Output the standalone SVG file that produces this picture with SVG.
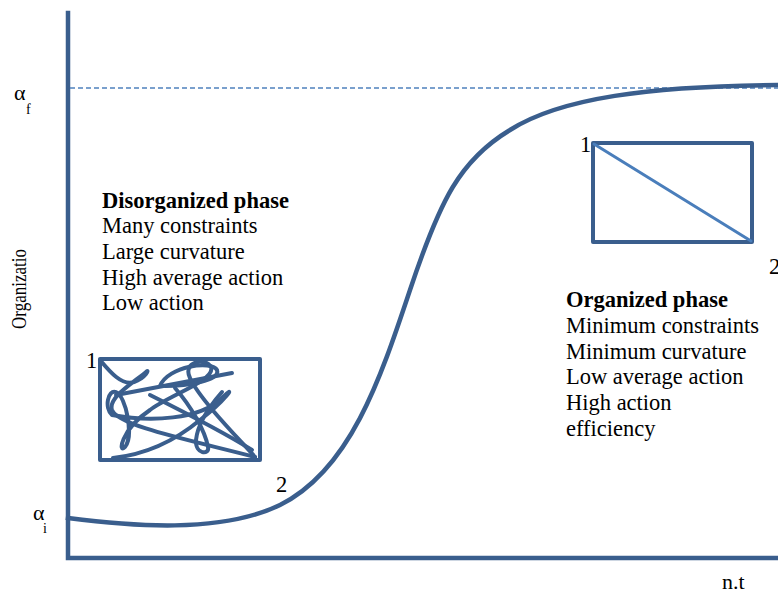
<svg xmlns="http://www.w3.org/2000/svg" width="778" height="591" viewBox="0 0 778 591">
<style>
.ax{fill:none;stroke:#3A5E8D;stroke-width:4.5;stroke-linecap:square}
.bx{fill:none;stroke:#3A5E8D;stroke-width:4;stroke-linejoin:round}
.sc{fill:none;stroke:#3A5E8D;stroke-width:4;stroke-linecap:round;stroke-linejoin:round}
.t{font-family:"Liberation Serif",serif;font-size:22.5px;fill:#000}
.b{font-weight:bold}
.s{font-family:"Liberation Serif",serif;font-size:22px;fill:#000}
.sub{font-family:"Liberation Serif",serif;font-size:14px;fill:#000}
</style>
<rect width="778" height="591" fill="#fff"/>
<g id="axes">
<path class="ax" d="M68,13 L68,558 L778,558"/>
<line x1="70" y1="88" x2="778" y2="88" stroke="#4F81BD" stroke-width="1.3" stroke-dasharray="5,3"/>
</g>
<g id="connectors">
<path class="ax" d="M68,518 C130,526 220,534 280,505 C350,470 380,380 410,290 C440,200 460,160 510,130 C560,98 650,86 778,85"/>
</g>
<g id="labels">
<text class="s" x="14" y="100">α</text><text class="sub" x="26" y="114">f</text>
<text class="s" x="33" y="520">α</text><text class="sub" x="43" y="533">i</text>
<text class="s" transform="translate(26,329) rotate(-90)" textLength="80" lengthAdjust="spacingAndGlyphs">Organizatio</text>
<text class="s" x="722" y="589">n.t</text>
</g>
<g id="disorganized-text">
<text class="t b" x="102" y="208">Disorganized phase</text>
<text class="t" x="102" y="233">Many constraints</text>
<text class="t" x="102" y="259">Large curvature</text>
<text class="t" x="102" y="285">High average action</text>
<text class="t" x="102" y="310">Low action</text>
</g>
<g id="organized-text">
<text class="t b" x="566" y="307">Organized phase</text>
<text class="t" x="566" y="333">Minimum constraints</text>
<text class="t" x="566" y="359">Minimum curvature</text>
<text class="t" x="566" y="384">Low average action</text>
<text class="t" x="566" y="410">High action</text>
<text class="t" x="566" y="436">efficiency</text>
</g>
<g id="disorganized-box">
<rect class="bx" x="100" y="359" width="160" height="101"/>
<path class="sc" d="M100,360 C110,372 122,386 134,382 C146,378 150,368 146,372 C130,385 108,398 112,410 C118,426 190,440 255,457"/>
<path class="sc" d="M255,457 C240,440 200,400 190,378 C182,362 205,357 211,367 C216,380 170,395 150,410 C120,430 118,455 125,447 C134,436 126,396 116,392 C108,389 104,408 112,415 C150,422 200,420 222,398 C238,382 226,400 200,420 C170,445 140,455 113,458"/>
<path class="sc" d="M116,395 L232,373"/>
<path class="sc" d="M160,386 C168,366 212,360 217,370 C221,381 186,386 165,386"/>
<path class="sc" d="M150,395 C180,410 220,430 252,450"/>
<path class="sc" d="M175,388 C190,405 205,430 208,447 C210,455 195,455 196,440 C198,420 215,400 222,392"/>
<text class="t" x="86" y="368">1</text>
<text class="t" x="276" y="492">2</text>
</g>
<g id="organized-box">
<rect class="bx" x="593" y="143" width="159" height="99"/>
<line x1="594" y1="144" x2="751" y2="241" stroke="#4A7EBB" stroke-width="3" stroke-linecap="round"/>
<text class="t" x="580" y="152">1</text>
<text class="t" x="769" y="274">2</text>
</g>
</svg>
